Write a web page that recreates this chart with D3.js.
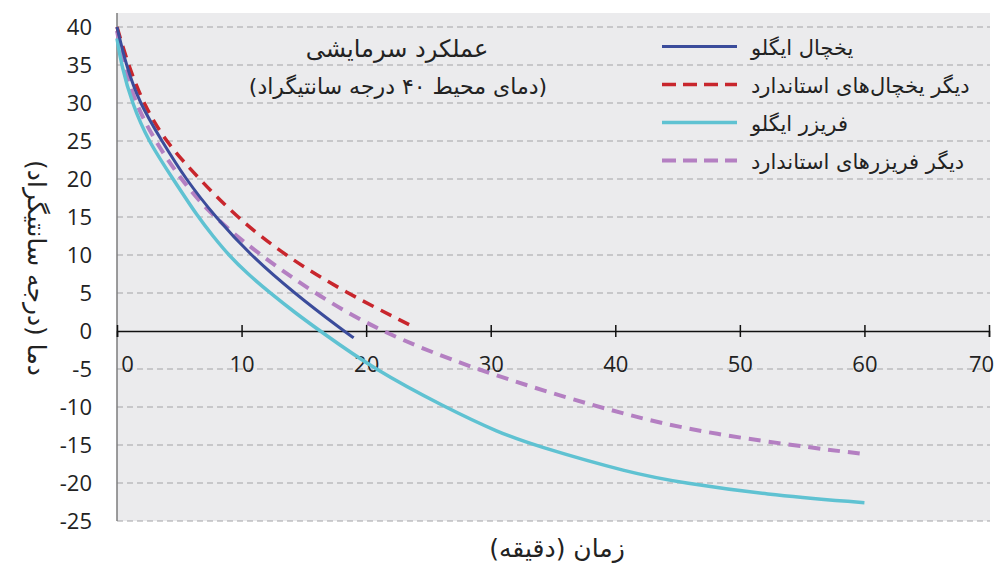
<!DOCTYPE html>
<head>
  <meta charset="utf-8">
  <script src="https://cdn.jsdelivr.net/npm/d3@7"></script>
  <style>
    body { margin: 0; background: #fff; }
    text { font-family: "DejaVu Sans", sans-serif; }
    .tick text { font-family: "Open Sans", "DejaVu Sans", sans-serif; }
  </style>
</head>
<body>
  <script>
    // minutes, degC
    var fridgeIgloo = [[0,40],[0.72,35],[1.8,30],[3.6,25],[5.5,20],[7.9,15],[10.7,10],[14.2,5],[18.2,0],[19,-0.9]];
    var fridgeOther = [[0,40],[0.9,35],[2.1,30],[3.85,25],[6.6,20],[9.6,15],[13.4,10],[18.4,5],[23.5,0.8]];
    var freezerIgloo = [[0,38.5],[0.35,35],[1.2,30],[2.5,25],[4.5,20],[6.5,15],[7.7,12.5],[8.95,10],[10.5,7.5],[12.3,5],[14.3,2.4],[16.3,0],[20.6,-5],[26.3,-10],[30.7,-13.4],[33.4,-15],[41.2,-18.7],[45.5,-20],[52,-21.5],[60,-22.6]];
    var freezerOther = [[0,39.5],[0.55,35],[1.45,30],[3.05,25],[5.1,20],[7.7,15],[11.5,10],[15.8,5],[21,0],[28.6,-5],[38.5,-10],[45.7,-13],[54,-15],[60,-16.2]];

    var seriesNames = ["یخچال ایگلو", "دیگر یخچال‌های استاندارد", "فریزر ایگلو", "دیگر فریزرهای استاندارد"];
    var xTicks = [0, 10, 20, 30, 40, 50, 60, 70];
    var yTicks = [40, 35, 30, 25, 20, 15, 10, 5, 0, -5, -10, -15, -20, -25];

    var series = [
      {name: seriesNames[0], data: fridgeIgloo, color: "#3b4c9b", width: 3, dash: null},
      {name: seriesNames[1], data: fridgeOther, color: "#c8262d", width: 3.5, dash: "12,8"},
      {name: seriesNames[2], data: freezerIgloo, color: "#5fc2d2", width: 3.5, dash: null},
      {name: seriesNames[3], data: freezerOther, color: "#b47fc2", width: 4, dash: "12,8"}
    ];

    var width = 1000, height = 570;

    var svg = d3.select("body").append("svg")
      .attr("width", width)
      .attr("height", height);

    var x = d3.scaleLinear().domain([0, 70]).range([117, 989]);
    var y = d3.scaleLinear().domain([-25, 40]).range([521, 27]);

    // plot background
    svg.append("rect")
      .attr("x", x(0)).attr("y", 13)
      .attr("width", x(70) - x(0) + 1).attr("height", y(-25) - 13)
      .attr("fill", "#ebebed");

    // grid
    svg.append("g").selectAll("line")
      .data(yTicks.filter(function(d) { return d !== 0; }))
      .enter().append("line")
        .attr("x1", x(0)).attr("x2", x(70) + 1)
        .attr("y1", y).attr("y2", y)
        .attr("stroke", "#a3a3a6")
        .attr("stroke-width", 1)
        .attr("stroke-dasharray", "6,4");

    // y axis (plain hyphen for negatives like the original)
    var yAxis = svg.append("g")
      .attr("transform", "translate(" + x(0) + ",0)")
      .call(d3.axisLeft(y).tickValues(yTicks).tickSize(0).tickPadding(25)
        .tickFormat(function(d) { return String(d); }));
    yAxis.select(".domain").remove();
    yAxis.selectAll(".tick text").attr("font-size", 22).attr("fill", "#222");
    svg.append("line")
      .attr("x1", x(0)).attr("x2", x(0))
      .attr("y1", 13).attr("y2", y(-25))
      .attr("stroke", "#7d7d7d").attr("stroke-width", 1.5);

    // x axis through zero
    var xAxis = svg.append("g")
      .attr("transform", "translate(0," + y(0) + ")")
      .call(d3.axisBottom(x).tickValues(xTicks).tickSizeOuter(0).tickSize(6).tickPadding(19)
        .tickFormat(function(d) { return String(d); }));
    xAxis.select(".domain").attr("stroke", "#111").attr("stroke-width", 1.5);
    xAxis.selectAll(".tick line").attr("y1", -6).attr("y2", 6).attr("stroke", "#111").attr("stroke-width", 1.5);
    xAxis.selectAll(".tick text").attr("font-size", 22).attr("fill", "#222")
      .attr("dx", function(d) { return d === 0 ? 10 : d === 70 ? -8 : 0; });

    // lines, smoothed like the original
    var line = d3.line()
      .x(function(d) { return x(d[0]); })
      .y(function(d) { return y(d[1]); })
      .curve(d3.curveBasis);

    var order = [3, 1, 2, 0];
    order.forEach(function(i) {
      var s = series[i];
      svg.append("path")
        .datum(s.data)
        .attr("fill", "none")
        .attr("stroke", s.color)
        .attr("stroke-width", s.width)
        .attr("stroke-dasharray", s.dash)
        .attr("d", line);
    });

    // title
    svg.append("text")
      .attr("x", 397).attr("y", 57)
      .attr("direction", "rtl").attr("text-anchor", "middle")
      .attr("font-size", 24).attr("fill", "#222")
      .text("عملکرد سرمایشی");
    svg.append("text")
      .attr("x", 398).attr("y", 94)
      .attr("direction", "rtl").attr("text-anchor", "middle")
      .attr("font-size", 22).attr("fill", "#222")
      .text("(دمای محیط ۴۰ درجه سانتیگراد)");

    // legend
    var legend = svg.append("g").selectAll("g")
      .data(series)
      .enter().append("g")
        .attr("transform", function(d, i) { return "translate(0," + (46.5 + i * 38) + ")"; });
    legend.append("line")
      .attr("x1", 662).attr("x2", 737)
      .attr("stroke", function(d) { return d.color; })
      .attr("stroke-width", function(d) { return d.width; })
      .attr("stroke-dasharray", function(d) { return d.dash ? "14,7" : null; });
    legend.append("text")
      .attr("x", 751).attr("y", 8)
      .attr("direction", "rtl").attr("text-anchor", "end")
      .attr("font-size", 21).attr("fill", "#222")
      .text(function(d) { return d.name; });

    // axis titles
    svg.append("text")
      .attr("transform", "translate(28,268) rotate(90)")
      .attr("direction", "rtl").attr("text-anchor", "middle")
      .attr("font-size", 25).attr("fill", "#222")
      .text("دما (درجه سانتیگراد)");
    svg.append("text")
      .attr("x", 557).attr("y", 557)
      .attr("direction", "rtl").attr("text-anchor", "middle")
      .attr("font-size", 25).attr("fill", "#222")
      .text("زمان (دقیقه)");
  </script>
</body>
